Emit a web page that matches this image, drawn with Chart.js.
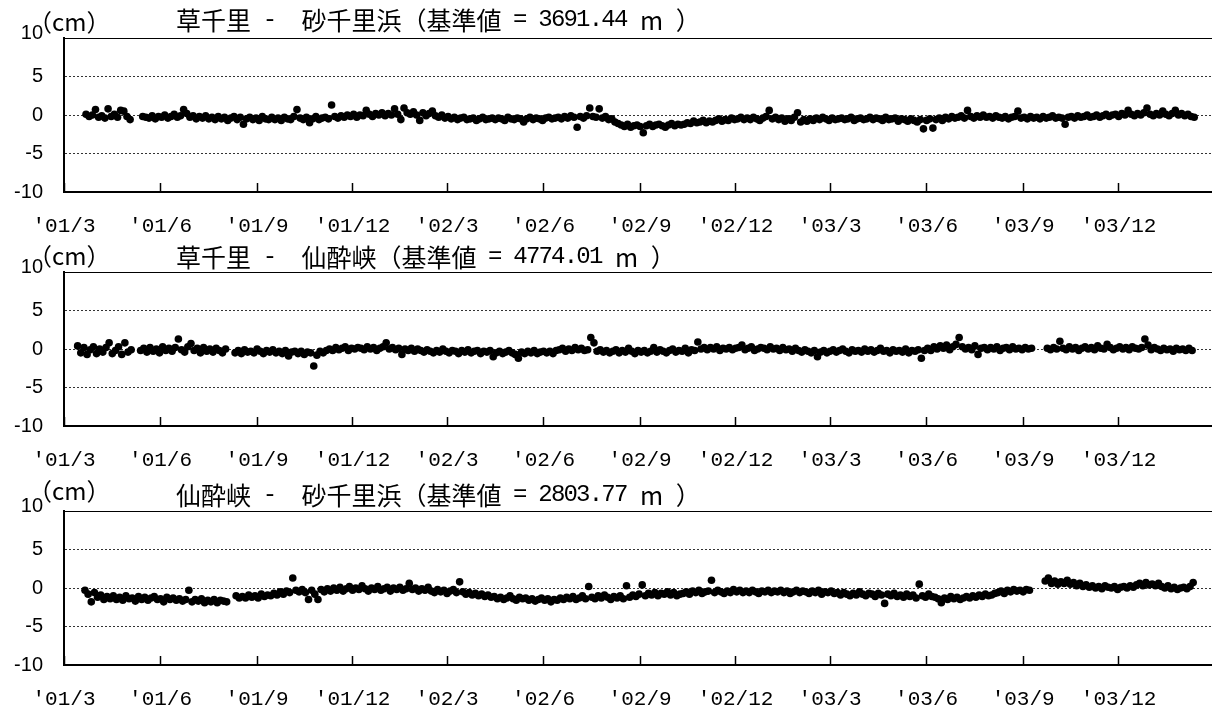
<!DOCTYPE html>
<html>
<head>
<meta charset="utf-8">
<script src="https://cdn.jsdelivr.net/npm/chart.js@4.4.1/dist/chart.umd.min.js"></script>
<style>
  html, body { margin: 0; padding: 0; background: #fff; }
  body { width: 1215px; height: 717px; position: relative; overflow: hidden; }
  .panel { position: absolute; left: 0; width: 1215px; height: 240px; }
</style>
</head>
<body>
<div class="panel" style="top:0px"><canvas id="chart1" width="1215" height="240"></canvas></div>
<div class="panel" style="top:234px"><canvas id="chart2" width="1215" height="240"></canvas></div>
<div class="panel" style="top:473px"><canvas id="chart3" width="1215" height="240"></canvas></div>

<script>
// x values are days counted from 2001-03-01
const TICK_DAYS   = [0, 92, 184, 275, 365, 457, 549, 640, 730, 822, 914, 1005];
const TICK_LABELS = ["'01/3", "'01/6", "'01/9", "'01/12", "'02/3", "'02/6", "'02/9", "'02/12", "'03/3", "'03/6", "'03/9", "'03/12"];
const X_MAX = 1093;
const Y_TICKS = [-10, -5, 0, 5, 10];
const STEP = 3;   // one value every 3 days

// ─── 草千里 - 砂千里浜 (cm), from day 21 ───────────────────────────────────────
const START_1 = 21;
const series1 = [
  0.1,-0.2,0.0,0.7,-0.3,-0.1,-0.4,0.8,-0.2,0.1,
  -0.3,0.6,0.5,-0.2,-0.6,null,null,null,-0.2,-0.3,
  -0.4,-0.1,-0.5,-0.2,-0.3,0.0,-0.4,-0.2,0.1,-0.3,
  -0.1,0.7,0.2,-0.3,-0.1,-0.5,-0.2,-0.4,-0.1,-0.5,
  -0.3,-0.6,-0.2,-0.5,-0.3,-0.7,-0.4,-0.2,-0.6,-0.3,
  -1.2,-0.5,-0.3,-0.6,-0.4,-0.7,-0.2,-0.5,-0.6,-0.3,
  -0.6,-0.4,-0.7,-0.3,-0.5,-0.6,-0.2,0.7,-0.4,-0.6,
  -0.3,-1.0,-0.5,-0.2,-0.6,-0.4,-0.3,-0.5,1.3,-0.2,
  -0.4,-0.1,-0.3,0.0,-0.2,0.1,-0.3,0.0,-0.1,0.6,
  0.1,-0.2,0.2,0.0,0.3,-0.1,0.2,0.0,0.8,0.1,
  -0.6,0.9,0.3,0.1,0.4,0.0,-0.7,0.3,-0.1,0.2,
  0.5,-0.1,-0.3,0.0,-0.4,-0.2,-0.5,-0.3,-0.6,-0.4,
  -0.3,-0.6,-0.5,-0.4,-0.7,-0.5,-0.3,-0.6,-0.5,-0.4,
  -0.6,-0.4,-0.5,-0.7,-0.3,-0.5,-0.6,-0.4,-0.5,-0.9,
  -0.5,-0.3,-0.6,-0.4,-0.5,-0.7,-0.4,-0.3,-0.5,-0.4,
  -0.3,-0.5,-0.2,-0.4,-0.1,-0.3,-1.6,-0.2,-0.4,-0.1,
  0.9,-0.2,-0.3,0.8,-0.4,-0.2,-0.6,-0.5,-0.9,-1.1,
  -1.3,-1.5,-1.2,-1.6,-1.4,-1.3,-1.5,-2.3,-1.4,-1.2,
  -1.5,-1.3,-1.2,-1.4,-1.6,-1.3,-1.1,-1.4,-1.2,-1.3,
  -1.2,-1.0,-1.1,-0.8,-1.0,-0.9,-0.7,-1.0,-0.8,-0.9,
  -0.7,-0.5,-0.8,-0.6,-0.7,-0.4,-0.6,-0.5,-0.3,-0.6,
  -0.4,-0.6,-0.3,-0.5,-0.7,-0.4,-0.2,0.6,-0.5,-0.3,
  -0.6,-0.4,-0.8,-0.5,-0.7,-0.3,0.3,-0.9,-0.6,-0.8,
  -0.5,-0.7,-0.4,-0.6,-0.3,-0.5,-0.7,-0.4,-0.6,-0.5,
  -0.4,-0.6,-0.5,-0.3,-0.7,-0.5,-0.4,-0.6,-0.5,-0.3,
  -0.6,-0.4,-0.5,-0.7,-0.3,-0.6,-0.5,-0.4,-0.8,-0.5,
  -0.6,-0.8,-0.5,-0.7,-0.9,-0.6,-1.8,-0.7,-0.5,-1.7,
  -0.6,-0.4,-0.7,-0.3,-0.5,-0.2,-0.4,-0.3,-0.1,-0.4,
  0.6,-0.2,-0.4,-0.1,-0.3,0.0,-0.3,-0.2,-0.4,-0.1,
  -0.3,-0.4,-0.2,-0.5,-0.3,-0.2,0.5,-0.4,-0.3,-0.5,
  -0.2,-0.4,-0.3,-0.5,-0.2,-0.4,-0.3,-0.1,-0.4,-0.3,
  -0.4,-1.2,-0.3,-0.2,-0.4,-0.1,-0.3,-0.2,0.0,-0.3,
  -0.2,0.0,-0.3,-0.1,0.1,-0.2,0.0,0.1,-0.2,0.2,
  0.0,0.6,0.1,-0.1,0.2,0.0,0.3,0.9,0.1,-0.1,
  0.2,0.0,0.5,0.1,-0.1,0.2,0.6,0.0,0.2,-0.1,
  0.1,-0.2,-0.3
];

// ─── 草千里 - 仙酔峡 (cm), from day 13 ────────────────────────────────────────
const START_2 = 13;
const series2 = [
  0.4,-0.5,0.2,-0.7,-0.1,0.3,-0.6,0.0,-0.4,0.2,
  0.8,-0.6,-0.2,0.3,-0.7,0.8,-0.4,-0.1,null,null,
  -0.2,0.1,-0.4,0.2,-0.3,0.0,-0.5,0.3,-0.2,0.1,
  -0.3,0.2,1.3,-0.1,-0.4,0.3,0.7,-0.2,0.1,-0.5,
  0.2,-0.3,0.0,-0.4,0.1,-0.2,-0.5,0.0,null,null,
  -0.5,-0.2,-0.6,-0.1,-0.4,-0.3,-0.5,0.0,-0.3,-0.6,
  -0.2,-0.4,-0.1,-0.5,-0.3,-0.6,-0.2,-0.9,-0.4,-0.3,
  -0.6,-0.3,-0.7,-0.4,-0.5,-2.2,-0.8,-0.3,-0.5,-0.2,
  0.0,-0.2,0.2,-0.1,0.1,0.3,-0.2,0.1,0.0,0.2,
  0.1,-0.1,0.3,0.0,0.2,-0.2,0.1,0.3,0.8,0.0,
  0.2,-0.1,0.1,-0.7,0.0,-0.2,0.1,-0.3,0.0,-0.2,
  -0.4,-0.1,-0.3,-0.5,-0.2,-0.4,0.0,-0.3,-0.5,-0.2,
  -0.3,-0.6,-0.2,-0.4,-0.1,-0.5,-0.3,-0.2,-0.6,-0.3,
  -0.4,-0.2,-1.0,-0.5,-0.3,-0.6,-0.4,-0.2,-0.5,-0.7,
  -1.2,-0.4,-0.6,-0.3,-0.5,-0.2,-0.6,-0.4,-0.3,-0.5,
  -0.3,-0.6,-0.2,-0.1,0.1,-0.3,0.0,-0.2,0.2,-0.1,
  0.1,-0.2,-0.1,1.5,0.8,-0.3,-0.1,-0.4,-0.2,-0.5,
  -0.3,-0.1,-0.5,-0.2,-0.4,0.1,-0.3,-0.6,-0.2,-0.4,
  -0.2,-0.5,-0.3,0.2,-0.4,-0.1,-0.3,-0.5,-0.2,0.0,
  -0.4,-0.2,-0.3,0.1,-0.5,-0.1,-0.2,0.9,0.0,0.2,
  -0.1,0.2,0.0,0.3,-0.2,0.1,0.0,0.2,-0.1,0.1,
  0.2,0.5,-0.1,0.1,0.3,-0.2,0.0,0.2,0.1,-0.1,
  0.3,0.0,0.1,-0.2,0.2,-0.1,0.0,-0.3,0.1,-0.2,
  -0.4,-0.1,-0.3,-0.5,-0.2,-1.0,-0.4,-0.2,-0.5,-0.3,
  -0.1,-0.4,-0.2,0.0,-0.3,-0.5,-0.1,-0.3,-0.2,-0.4,
  0.0,-0.3,-0.1,-0.4,-0.2,0.1,-0.3,-0.2,-0.5,-0.1,
  -0.3,-0.2,-0.4,0.0,-0.5,-0.2,-0.3,-0.1,-1.2,-0.2,
  0.1,-0.2,0.3,0.0,0.4,0.1,0.5,-0.1,0.3,0.6,
  1.5,0.3,0.0,0.2,-0.1,0.4,-0.7,0.1,0.2,-0.1,
  0.2,0.0,0.3,-0.2,0.1,0.2,-0.1,0.3,0.0,0.1,
  -0.1,0.2,0.0,0.1,null,null,null,null,0.1,-0.1,
  0.2,0.0,1.0,0.1,-0.1,0.3,0.0,0.2,-0.2,0.1,
  0.3,0.0,0.2,-0.1,0.4,0.1,0.0,0.6,0.2,-0.1,
  0.1,0.3,0.0,0.2,-0.1,0.3,0.1,0.0,0.2,1.3,
  0.5,-0.1,0.2,0.0,-0.2,0.1,-0.1,0.0,-0.3,0.1,
  -0.1,0.0,-0.2,0.1,-0.2
];

// ─── 仙酔峡 - 砂千里浜 (cm), from day 20 ──────────────────────────────────────
const START_3 = 20;
const series3 = [
  -0.3,-0.8,-1.8,-0.6,-1.2,-0.9,-1.5,-1.1,-1.4,-1.0,
  -1.5,-1.2,-1.6,-1.0,-1.4,-1.3,-1.7,-1.1,-1.5,-1.2,
  -1.6,-1.3,-1.1,-1.5,-1.4,-1.8,-1.2,-1.5,-1.3,-1.6,
  -1.4,-1.7,-1.5,-0.3,-1.8,-1.5,-1.7,-1.4,-1.9,-1.6,
  -1.8,-1.5,-1.9,-1.6,-1.7,-1.8,null,null,-1.0,-1.3,
  -1.1,-1.3,-0.9,-1.2,-1.0,-1.3,-0.8,-1.1,-0.9,-1.0,
  -0.7,-0.9,-0.5,-0.8,-0.4,-0.6,1.3,-0.3,-0.5,-0.2,
  -0.6,-1.5,-0.3,-0.8,-1.5,-0.2,-0.5,-0.1,-0.4,0.0,
  -0.3,0.1,-0.4,-0.1,0.2,-0.3,0.0,-0.2,0.3,-0.1,
  -0.4,0.0,-0.2,0.2,-0.3,-0.1,0.1,-0.4,0.0,-0.2,
  0.1,-0.3,-0.1,0.6,-0.2,0.0,-0.4,-0.1,-0.3,0.1,
  -0.4,-0.6,-0.2,-0.5,-0.3,-0.7,-0.4,-0.2,-0.6,0.8,
  -0.5,-0.8,-0.6,-0.9,-0.7,-1.0,-0.8,-1.1,-0.9,-1.2,
  -1.1,-1.4,-1.2,-1.5,-1.3,-1.0,-1.4,-1.6,-1.2,-1.4,
  -1.3,-1.6,-1.4,-1.7,-1.5,-1.3,-1.6,-1.4,-1.8,-1.5,
  -1.6,-1.3,-1.5,-1.2,-1.4,-1.1,-1.5,-1.3,-1.0,-1.4,
  0.2,-1.2,-1.4,-1.0,-1.3,-0.9,-1.2,-1.5,-1.1,-1.3,
  -1.0,-1.4,0.3,-1.2,-0.9,-1.1,-0.8,0.4,-1.0,-0.7,
  -0.9,-0.6,-1.0,-0.7,-0.8,-0.5,-0.9,-0.6,-1.0,-0.8,
  -0.7,-0.5,-0.8,-0.4,-0.6,-0.3,-0.7,-0.5,-0.4,1.0,
  -0.6,-0.3,-0.5,-0.7,-0.4,-0.6,-0.2,-0.5,-0.3,-0.6,
  -0.4,-0.6,-0.3,-0.5,-0.7,-0.4,-0.5,-0.3,-0.6,-0.4,
  -0.5,-0.3,-0.6,-0.4,-0.7,-0.5,-0.3,-0.6,-0.4,-0.5,
  -0.7,-0.4,-0.6,-0.3,-0.8,-0.5,-0.6,-0.4,-0.7,-0.6,
  -0.9,-0.6,-0.8,-1.0,-0.7,-0.9,-0.5,-0.8,-1.0,-0.7,
  -0.8,-1.1,-0.7,-0.9,-2.0,-0.8,-1.0,-0.7,-1.1,-0.9,
  -1.2,-0.8,-1.1,-0.9,-1.3,0.5,-1.0,-1.2,-0.8,-1.1,
  -1.2,-1.4,-1.9,-1.3,-1.5,-1.1,-1.4,-1.2,-1.5,-1.3,
  -1.1,-1.3,-1.0,-1.2,-0.9,-1.1,-0.8,-1.0,-0.9,-0.7,
  -0.6,-0.4,-0.7,-0.3,-0.5,-0.2,-0.4,-0.3,-0.5,-0.2,
  -0.3,null,null,null,null,0.9,1.3,0.6,0.9,0.5,
  0.8,0.6,1.0,0.5,0.7,0.3,0.6,0.2,0.4,0.1,
  0.3,0.0,0.2,-0.1,0.3,0.1,0.0,0.2,-0.2,0.1,
  0.2,0.0,0.3,0.1,0.4,0.6,0.3,0.7,0.4,0.5,
  0.3,0.6,0.2,0.0,0.3,-0.1,0.1,-0.2,0.0,0.1,
  -0.1,0.2,0.7
];

// title pieces: CJK parts in Noto Sans CJK, half-width parts in a narrow mono cell
const TITLE_1 = [['草千里', 'cjk'], [' -  ', 'mono'], ['砂千里浜（基準値', 'cjk'], [' = 3691.44 ', 'mono'], ['m', 'cjk'], [' ', 'mono'], ['）', 'cjk']];
const TITLE_2 = [['草千里', 'cjk'], [' -  ', 'mono'], ['仙酔峡（基準値', 'cjk'], [' = 4774.01 ', 'mono'], ['m', 'cjk'], [' ', 'mono'], ['）', 'cjk']];
const TITLE_3 = [['仙酔峡', 'cjk'], [' -  ', 'mono'], ['砂千里浜（基準値', 'cjk'], [' = 2803.77 ', 'mono'], ['m', 'cjk'], [' ', 'mono'], ['）', 'cjk']];
const UNIT = '（cm）';

const FONTS = {
  cjk:  "25px 'Noto Sans CJK JP'",
  mono: "24px 'Liberation Mono'",
  unit: "24px 'Noto Sans CJK JP'",
};
const MONO_CELL = 12.6;

Chart.defaults.font.family = "'Liberation Sans', Arial, sans-serif";
Chart.defaults.color = '#000';

// draws the panel title and the (cm) unit above the plot area
const panelText = {
  id: 'panelText',
  afterDraw(chart, args, opts) {
    const { ctx, chartArea } = chart;
    const y = chartArea.top + opts.titleDy;
    ctx.save();
    ctx.fillStyle = '#000';
    ctx.textBaseline = 'middle';
    let x = opts.titleX;
    opts.title.forEach(([text, kind]) => {
      ctx.font = FONTS[kind];
      if (kind === 'mono') {
        // half-width characters, one narrow cell each
        ctx.textAlign = 'center';
        [...text].forEach((ch, i) => ctx.fillText(ch, x + (i + 0.5) * MONO_CELL, y));
        x += text.length * MONO_CELL;
      } else {
        ctx.textAlign = 'left';
        ctx.fillText(text, x, y);
        x += ctx.measureText(text).width;
      }
    });
    ctx.textAlign = 'left';
    ctx.font = FONTS.unit;
    ctx.fillText(UNIT, opts.unitX, chartArea.top + opts.unitDy);
    ctx.restore();
  },
};

function toPoints(start, values) {
  return values
    .map((v, i) => ({ x: start + i * STEP, y: v }))
    .filter(p => p.y !== null);
}

function makePanel(canvasId, start, values, title, titleDy, unitDy) {
  const ctx = document.getElementById(canvasId);
  return new Chart(ctx, {
    type: 'scatter',
    data: {
      datasets: [{
        data: toPoints(start, values),
        pointRadius: 3.8,
        pointBackgroundColor: '#000',
        pointBorderWidth: 0,
        showLine: false,
      }],
    },
    options: {
      responsive: false,
      animation: false,
      devicePixelRatio: 1,
      layout: { padding: { top: 38, left: 0, right: 0, bottom: 8 } },
      plugins: {
        legend: { display: false },
        tooltip: { enabled: false },
        panelText: { title, titleX: 176, titleDy, unitX: 28, unitDy },
      },
      scales: {
        x: {
          type: 'linear',
          position: 'bottom',
          min: 0,
          max: X_MAX,
          afterBuildTicks: s => { s.ticks = TICK_DAYS.map(v => ({ value: v })); },
          afterFit: s => { s.height = 40; },
          grid: {
            display: true,
            drawOnChartArea: false,
            drawTicks: true,
            tickLength: -9,
            tickColor: '#000',
            tickWidth: 1.5,
          },
          border: { display: true, color: '#000', width: 2 },
          ticks: {
            autoSkip: false,
            maxRotation: 0,
            padding: 31,
            font: { family: "'Liberation Mono', monospace", size: 21 },
            callback: (v, i) => TICK_LABELS[i],
          },
        },
        xTop: {
          type: 'linear',
          position: 'top',
          min: 0,
          max: X_MAX,
          afterFit: s => { s.height = 0; },
          grid: { display: false },
          ticks: { display: false },
          border: { display: true, color: '#000', width: 1 },
        },
        y: {
          min: -10,
          max: 10,
          afterBuildTicks: s => { s.ticks = Y_TICKS.map(v => ({ value: v })); },
          afterFit: s => { s.width = 64; },
          grid: { color: '#333', lineWidth: 1, drawTicks: false },
          border: { display: true, color: '#000', width: 2, dash: [2, 2] },
          ticks: {
            padding: 21,
            // the top label sits a little above its grid line
            font: c => ({
              family: "'Liberation Sans', Arial, sans-serif",
              size: 20,
              lineHeight: c.tick && c.tick.value === 10 ? 0.5 : 1.2,
            }),
            callback: v => (v === 10 ? ['10', ''] : String(v)),
          },
        },
      },
    },
    plugins: [panelText],
  });
}

makePanel('chart1', START_1, series1, TITLE_1, -18, -16);
makePanel('chart2', START_2, series2, TITLE_2, -15, -16);
makePanel('chart3', START_3, series3, TITLE_3, -16, -20);
</script>
</body>
</html>
